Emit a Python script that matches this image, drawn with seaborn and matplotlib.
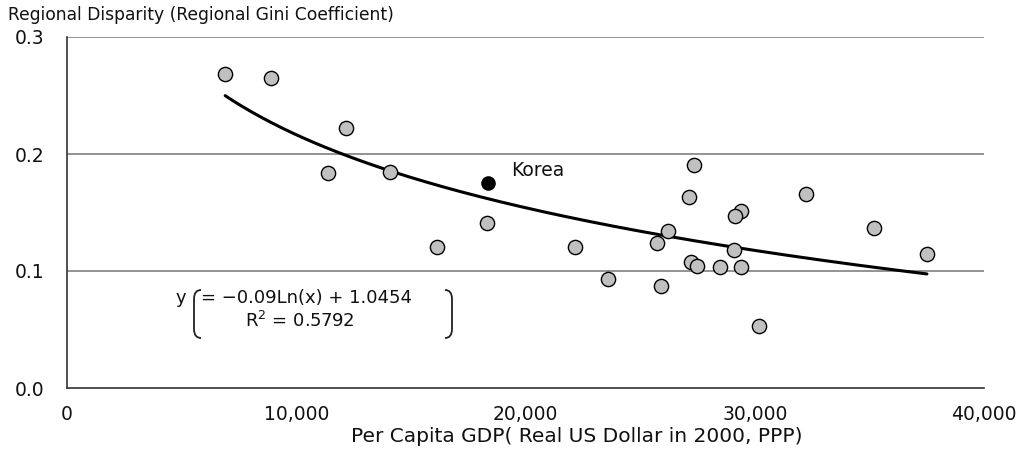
import numpy as np
import pandas as pd
import matplotlib
matplotlib.use("Agg")
import matplotlib.pyplot as plt
import seaborn as sns
from matplotlib.patches import PathPatch
from matplotlib.path import Path

# ---- data ----
gdp = [6900, 8900, 12180, 11400, 14100, 16160, 18300, 22140, 23580,
       27340, 27120, 29390, 29130, 32230, 35200, 37510, 26200, 25720,
       29080, 27210, 27500, 28470, 29390, 25900, 30170]
gini = [0.268, 0.265, 0.222, 0.184, 0.185, 0.1205, 0.141, 0.1205, 0.093,
        0.191, 0.163, 0.151, 0.147, 0.166, 0.137, 0.1145, 0.134, 0.124,
        0.118, 0.108, 0.104, 0.1035, 0.1035, 0.087, 0.053]
korea_gdp = [18380]
korea_gini = [0.175]
fit_slope = -0.09
fit_intercept = 1.0454
fit_r2 = 0.5792
x_ticks = [0, 10000, 20000, 30000, 40000]
x_ticklabels = ["0", "10,000", "20,000", "30,000", "40,000"]
y_ticks = [0.0, 0.1, 0.2, 0.3]
y_ticklabels = ["0.0", "0.1", "0.2", "0.3"]

df = pd.DataFrame({"gdp": gdp, "gini": gini})
kdf = pd.DataFrame({"gdp": korea_gdp, "gini": korea_gini})
xs = np.linspace(min(gdp), max(gdp), 200)
fit_df = pd.DataFrame({"gdp": xs, "gini": fit_slope * np.log(xs) + fit_intercept})

sns.set_style("white")
plt.rcParams["font.family"] = ["DejaVu Sans"]
plt.rcParams["text.color"] = "#111111"
plt.rcParams["xtick.labelcolor"] = "#111111"
plt.rcParams["ytick.labelcolor"] = "#111111"
plt.rcParams["axes.labelcolor"] = "#111111"

fig = plt.figure(figsize=(10.28, 4.51), dpi=100)
ax = fig.add_axes([67 / 1028, 1 - 388 / 451, (984 - 67) / 1028, (388 - 37) / 451])

for yv in [0.1, 0.2, 0.3]:
    ax.axhline(yv, color="#808080", lw=1.2, zorder=0)

sns.lineplot(data=fit_df, x="gdp", y="gini", ax=ax, color="black", lw=2.2, zorder=2)
sns.scatterplot(data=df, x="gdp", y="gini", ax=ax, s=105, color="#c0c0c0",
                edgecolor="black", linewidth=1.0, zorder=3)
sns.scatterplot(data=kdf, x="gdp", y="gini", ax=ax, s=90, color="black",
                edgecolor="black", linewidth=1.0, zorder=3)
ax.text(korea_gdp[0] + 1000, korea_gini[0] + 0.003, "Korea", fontsize=13.5,
        va="bottom", ha="left", color="#111111")

ax.set_xlim(0, 40000)
ax.set_ylim(0, 0.3)
ax.set_xticks(x_ticks)
ax.set_xticklabels(x_ticklabels, fontsize=13.5)
ax.set_yticks(y_ticks)
ax.set_yticklabels(y_ticklabels, fontsize=13.5)
ax.tick_params(axis="x", direction="in", length=6, width=1, color="#333333", pad=12)
ax.tick_params(axis="y", direction="out", length=5, width=1, color="#333333", pad=11)

for side in ["top", "right"]:
    ax.spines[side].set_visible(False)
for side in ["left", "bottom"]:
    ax.spines[side].set_color("#333333")
    ax.spines[side].set_linewidth(1.2)

ax.set_xlabel("Per Capita GDP( Real US Dollar in 2000, PPP)", fontsize=14.5)
ax.xaxis.set_label_coords((577 - 67) / 917, (388 - 437) / 351)
ax.xaxis.label.set_va("center")
ax.set_ylabel("")
fig.text(8 / 1028, 1 - 15 / 451, "Regional Disparity (Regional Gini Coefficient)",
         fontsize=12.3, ha="left", va="center", color="#111111")

# equation annotation
def px(x, y):
    return (x / 1028, 1 - y / 451)

eq_font = 13
fig.text(*px(176, 298), "y", fontsize=eq_font, ha="left", va="center")
fig.text(*px(201, 298), f"= \u2212{-fit_slope:.2f}Ln(x) + {fit_intercept:.4f}",
         fontsize=eq_font, ha="left", va="center")
fig.text(*px(245, 321), f"R$^2$ = {fit_r2:.4f}", fontsize=eq_font, ha="left", va="center")

def bracket(xc, y0, y1, w, left=True):
    d = w if left else -w
    verts = [px(xc + d, y0), px(xc, y0), px(xc, y0 + 9),
             px(xc, y1 - 9), px(xc, y1), px(xc + d, y1)]
    codes = [Path.MOVETO, Path.CURVE3, Path.CURVE3, Path.LINETO, Path.CURVE3, Path.CURVE3]
    p = PathPatch(Path(verts, codes), transform=fig.transFigure, fill=False,
                  lw=1.3, color="#222222")
    fig.add_artist(p)

bracket(194, 290, 338, 7, left=True)
bracket(452, 290, 338, 7, left=False)

fig.savefig("out.png", dpi=100)
